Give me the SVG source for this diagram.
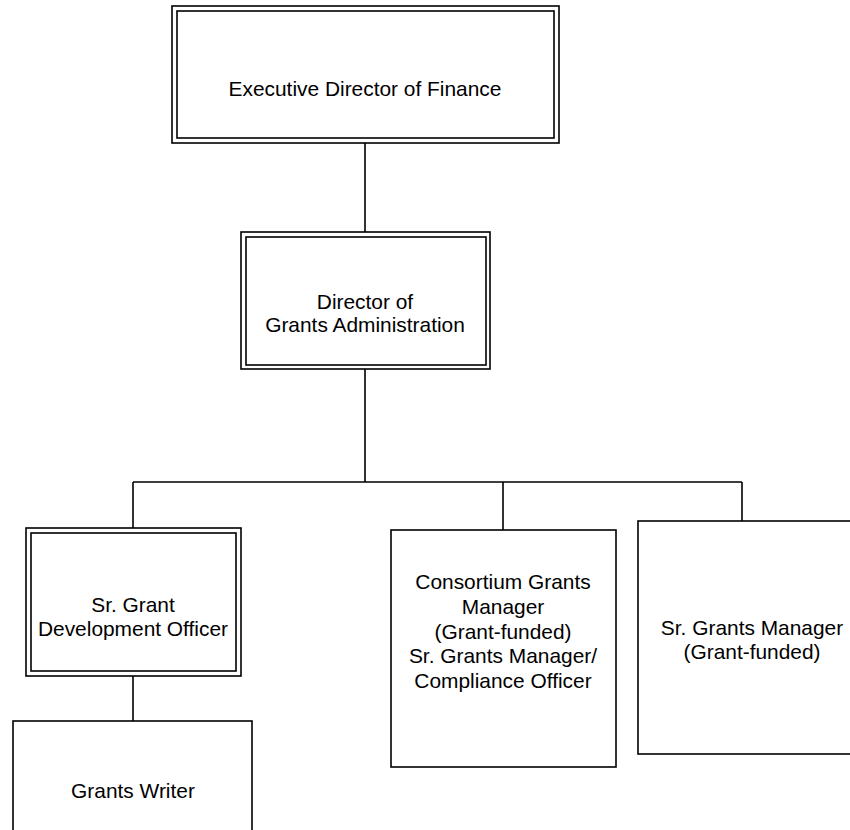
<svg xmlns="http://www.w3.org/2000/svg" width="850" height="830" viewBox="0 0 850 830">
<style>
.box{fill:#fff;stroke:#000;stroke-width:1.6}
.line{fill:none;stroke:#000;stroke-width:1.6}
text{font-family:"Liberation Sans",Arial,sans-serif;font-size:20.9px;fill:#000;text-anchor:middle}
</style>
<rect width="850" height="830" fill="#fff"/>
<g id="connectors">
<path class="line" d="M365 143V232M365 369V482M133 482H742M133 482V528M503 482V530M742 482V521M133 676V721"/>
</g>
<g id="exec">
<rect class="box" x="172" y="6" width="387" height="137"/>
<rect class="box" x="177" y="11" width="377" height="127"/>
<text x="365" y="96">Executive Director of Finance</text>
</g>
<g id="director">
<rect class="box" x="241" y="232" width="249" height="137"/>
<rect class="box" x="246" y="237" width="240" height="128"/>
<text x="365" y="309">Director of</text>
<text x="365" y="332">Grants Administration</text>
</g>
<g id="srgrant">
<rect class="box" x="26" y="528" width="215" height="148"/>
<rect class="box" x="31" y="533" width="205" height="138"/>
<text x="133" y="612">Sr. Grant</text>
<text x="133" y="636">Development Officer</text>
</g>
<g id="writer">
<rect class="box" x="13" y="721" width="239" height="130"/>
<text x="133" y="798">Grants Writer</text>
</g>
<g id="consortium">
<rect class="box" x="391" y="530" width="225" height="237"/>
<text x="503" y="589">Consortium Grants</text>
<text x="503" y="614">Manager</text>
<text x="503" y="639">(Grant-funded)</text>
<text x="503" y="663">Sr. Grants Manager/</text>
<text x="503" y="688">Compliance Officer</text>
</g>
<g id="srmanager">
<rect class="box" x="638" y="521" width="228" height="233"/>
<text x="752" y="635">Sr. Grants Manager</text>
<text x="752" y="659">(Grant-funded)</text>
</g>
</svg>
